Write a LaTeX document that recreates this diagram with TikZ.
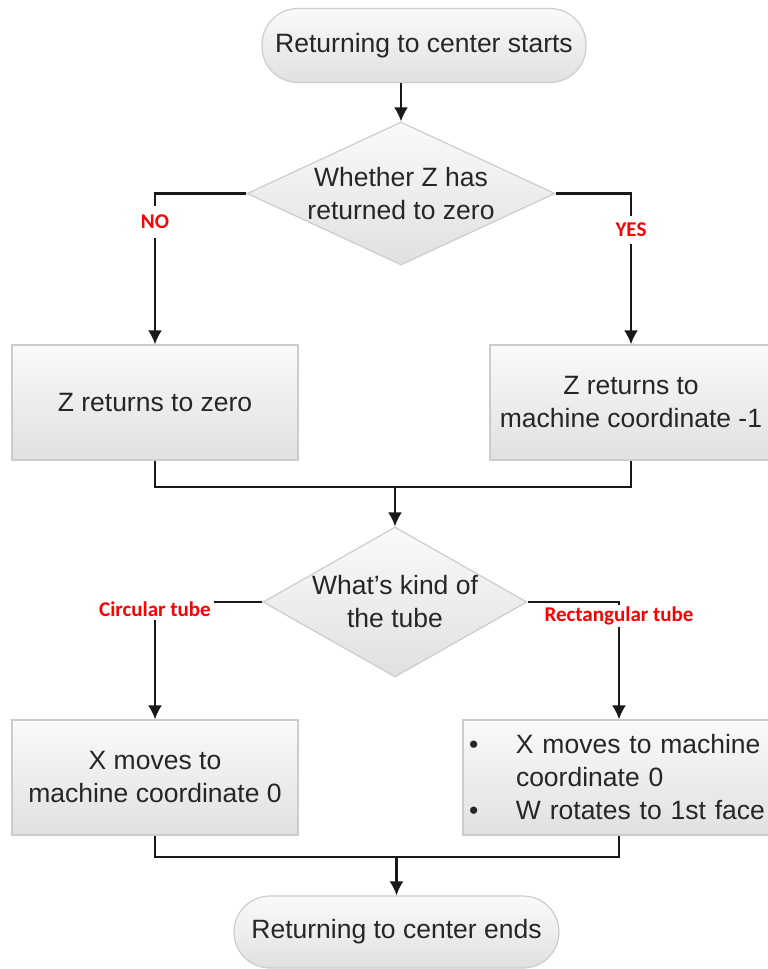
\documentclass[tikz,border=0pt]{standalone}
\usepackage{fontspec}
\setmainfont{Liberation Sans}
\newfontfamily\lblfont{Carlito}
\usetikzlibrary{shapes.geometric,arrows.meta}
\begin{document}
\begin{tikzpicture}[x=1pt,y=-1pt,
  every node/.style={font=\fontsize{26.5}{33}\selectfont, text=black!85},
  fillbox/.style={top color=white!98!black, bottom color=white!88!black, draw=black!20, line width=1.2pt},
  termbox/.style={fillbox, rectangle, rounded corners=36pt, minimum width=324pt, minimum height=74pt, inner sep=0pt},
  procbox/.style={fillbox, rectangle, minimum height=115pt, inner sep=0pt, align=center},
  decbox/.style={fillbox, diamond, inner sep=0pt},
  conn/.style={line width=2.2pt, draw=black!90},
  arr/.style={conn, -{Latex[length=14pt,width=14pt]}},
  lbl/.style={font=\lblfont\bfseries\fontsize{21}{24}\selectfont, text=red, fill=white, inner xsep=3pt, inner ysep=3pt}
]
\useasboundingbox (0,0) rectangle (768,969);
\clip (0,0) rectangle (768,969);

% nodes
\node[termbox] (start) at (424,45.5) {Returning to center starts};
\node[decbox, minimum width=308pt, minimum height=143pt] (d1) at (401,193.5) {};
\node[align=center] (d1t) at (d1.center) {Whether Z has\\returned to zero};
\node[procbox, minimum width=286pt] (b1) at (155,402.5) {Z returns to zero};
\node[procbox, minimum width=282pt] (b2) at (631,402.5) {Z returns to\\machine coordinate -1};
\node[decbox, minimum width=264pt, minimum height=150pt] (d2) at (395,602) {};
\node[align=center] (d2t) at (d2.center) {What's kind of\\the tube};
\node[procbox, minimum width=286pt] (b3) at (155,777.5) {X moves to\\machine coordinate 0};
\node[procbox, align=left, text width=300pt, inner xsep=6pt] (b4) at (619,777.5)
  {\makebox[47pt][l]{\textbullet}X moves to machine\\\makebox[47pt][l]{}coordinate 0\\\makebox[47pt][l]{\textbullet}W rotates to 1st face};
\node[termbox, minimum width=325pt, minimum height=72pt] (end) at (396.5,932) {Returning to center ends};

\coordinate (m1) at (d2.north |- 0,487);
\coordinate (m2) at (end.north |- 0,857);

% connectors
\draw[arr] (d1.north |- start.south) -- (d1.north);
\draw[arr] (d1.west) -| (b1.north);
\draw[arr] (d1.east) -| (b2.north);
\draw[conn] (b1.south) |- (m1) -| (b2.south);
\draw[arr] (m1) -- (d2.north);
\draw[arr] (d2.west) -| (b3.north);
\draw[arr] (d2.east) -| (b4.north);
\draw[conn] (b3.south) |- (m2) -| (b4.south);
\draw[arr] (m2) -- (end.north);

% labels
\node[lbl, inner ysep=9pt] (lno) at (b1.north |- 0,222) {NO};
\node[lbl, inner ysep=7pt] (lyes) at (b2.north |- 0,230) {YES};
\node[lbl, inner ysep=4pt] (lcirc) at (b3.north |- 0,609) {Circular tube};
\node[lbl, inner ysep=2pt] (lrect) at (b4.north |- 0,616) {Rectangular tube};
\end{tikzpicture}
\end{document}
